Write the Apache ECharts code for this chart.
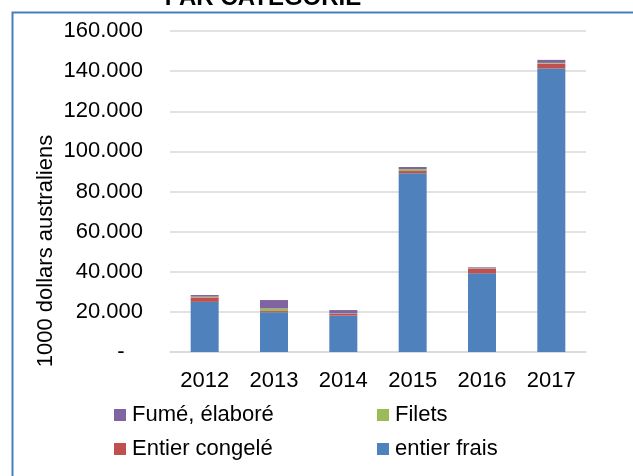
<!DOCTYPE html>
<html>
<head>
<meta charset="utf-8">
<script src="https://cdn.jsdelivr.net/npm/echarts@6/dist/echarts.min.js"></script>
<style>
  html, body { margin: 0; padding: 0; background: #fff; overflow: hidden; }
  #chart { width: 633px; height: 476px; }
</style>
</head>
<body>
<div id="chart"></div>
<script>
// Export values by category, in thousands of Australian dollars
var years = ['2012', '2013', '2014', '2015', '2016', '2017'];
var entierFrais = [25000, 19800, 18100, 89100, 39200, 141300];
var entierCongele = [2200, 600, 900, 1100, 2300, 2400];
var filets = [400, 1300, 200, 900, 200, 400];
var fumeElabore = [800, 4200, 1700, 1100, 500, 1500];

var FONT = '"Liberation Sans", Arial, sans-serif';
var TEXT = '#000000';

function fmt(v) {
  if (v === 0) return '-   ';
  return String(Math.round(v)).replace(/\B(?=(\d{3})+(?!\d))/g, '.');
}

var seriesDefs = [
  { name: 'entier frais', data: entierFrais, color: '#4F81BD' },
  { name: 'Entier congelé', data: entierCongele, color: '#C0504D' },
  { name: 'Filets', data: filets, color: '#9BBB59' },
  { name: 'Fumé, élaboré', data: fumeElabore, color: '#8064A2' }
];

function legendAt(name, left, top) {
  return {
    data: [name], left: left, top: top, padding: 0,
    itemWidth: 12, itemHeight: 12, icon: 'rect', itemGap: 0,
    textStyle: { fontFamily: FONT, fontSize: 22, color: TEXT, padding: [0, 0, 0, 1] },
    selectedMode: false
  };
}

var chart = echarts.init(document.getElementById('chart'), null, { renderer: 'canvas' });
chart.setOption({
  animation: false,
  backgroundColor: '#ffffff',
  grid: { left: 170, right: 47, top: 31, bottom: 124, containLabel: false },
  legend: [
    legendAt('Fumé, élaboré', 114, 404),
    legendAt('Filets', 377, 404),
    legendAt('Entier congelé', 114, 438),
    legendAt('entier frais', 377, 438)
  ],
  xAxis: {
    type: 'category',
    data: years,
    axisTick: { show: false },
    axisLine: { lineStyle: { color: '#d9d9d9', width: 1.5 } },
    axisLabel: { fontFamily: FONT, fontSize: 22, color: TEXT, margin: 18 }
  },
  yAxis: {
    type: 'value',
    min: 0, max: 160000, interval: 20000,
    axisLine: { show: false },
    axisTick: { show: false },
    splitLine: { lineStyle: { color: '#d9d9d9', width: 1.5 } },
    axisLabel: { fontFamily: FONT, fontSize: 22, color: TEXT, margin: 27, formatter: fmt }
  },
  series: seriesDefs.map(function (s) {
    return {
      name: s.name, type: 'bar', stack: 'total', data: s.data,
      barWidth: 28,
      itemStyle: { color: s.color }
    };
  }),
  graphic: [
    {
      type: 'rect', silent: true,
      shape: { x: 12.5, y: 12.5, width: 1200, height: 1000 },
      style: { fill: 'none', stroke: '#4A7EBB', lineWidth: 2 }
    },
    {
      type: 'text', silent: true, x: 263, y: -2,
      style: {
        text: 'PAR CATÉGORIE', fontFamily: FONT, fontSize: 24, fontWeight: 'bold',
        fill: TEXT, align: 'center', verticalAlign: 'middle'
      }
    },
    {
      type: 'text', silent: true, x: 46, y: 251, rotation: Math.PI / 2,
      style: {
        text: '1000 dollars australiens', fontFamily: FONT, fontSize: 22,
        fill: TEXT, align: 'center', verticalAlign: 'middle'
      }
    }
  ]
});
</script>
</body>
</html>
